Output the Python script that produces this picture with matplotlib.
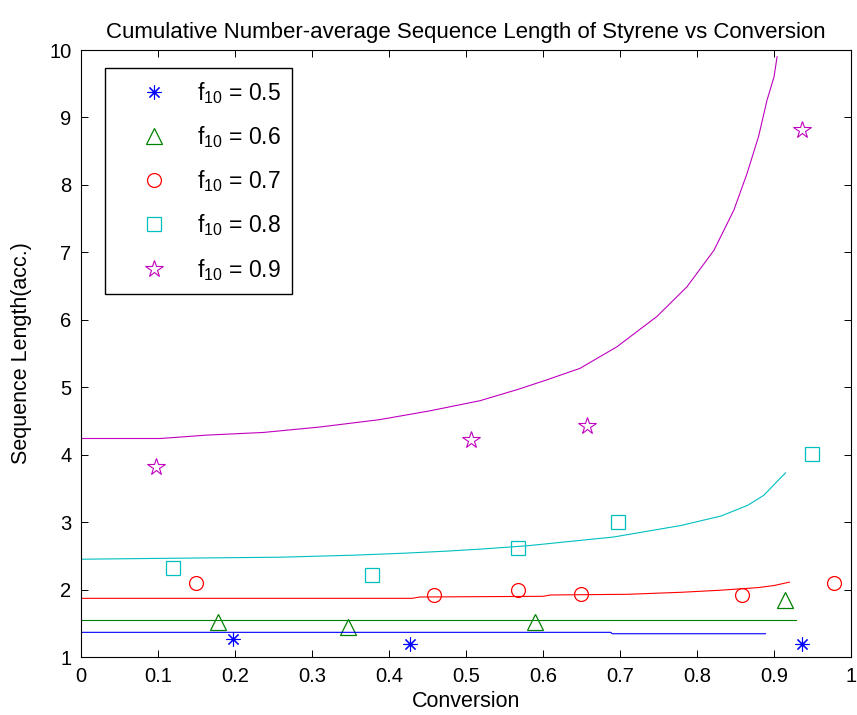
import matplotlib
matplotlib.use('Agg')
import matplotlib.pyplot as plt

plt.rcParams['font.family'] = ['Liberation Sans', 'DejaVu Sans']
plt.rcParams['mathtext.default'] = 'regular'

# model curves
blue_x = [0.0, 0.688, 0.69, 0.889]
blue_y = [1.366, 1.366, 1.345, 1.345]
green_x = [0.0, 0.928]
green_y = [1.55, 1.55]
red_x = [0.0, 0.43, 0.44, 0.60, 0.61, 0.71, 0.78, 0.83, 0.88, 0.90, 0.92]
red_y = [1.87, 1.87, 1.89, 1.90, 1.92, 1.93, 1.96, 1.99, 2.03, 2.06, 2.11]
cyan_x = [0.0, 0.081, 0.259, 0.354, 0.421, 0.475, 0.519, 0.58, 0.692, 0.779,
          0.831, 0.866, 0.887, 0.902, 0.915]
cyan_y = [2.45, 2.46, 2.48, 2.51, 2.54, 2.57, 2.60, 2.65, 2.78, 2.95,
          3.09, 3.25, 3.40, 3.58, 3.73]
mag_x = [0.0, 0.103, 0.163, 0.237, 0.310, 0.388, 0.453, 0.518, 0.568, 0.605,
         0.648, 0.696, 0.748, 0.787, 0.822, 0.848, 0.865, 0.880, 0.891, 0.900, 0.904]
mag_y = [4.24, 4.24, 4.29, 4.33, 4.41, 4.52, 4.65, 4.80, 4.97, 5.11,
         5.28, 5.60, 6.05, 6.49, 7.03, 7.63, 8.17, 8.72, 9.26, 9.60, 9.90]

# experimental points
pts_05_x = [0.197, 0.427, 0.936]
pts_05_y = [1.26, 1.20, 1.20]
pts_06_x = [0.178, 0.347, 0.589, 0.914]
pts_06_y = [1.52, 1.45, 1.52, 1.85]
pts_07_x = [0.149, 0.458, 0.568, 0.649, 0.859, 0.978]
pts_07_y = [2.10, 1.92, 2.00, 1.93, 1.92, 2.10]
pts_08_x = [0.119, 0.378, 0.568, 0.698, 0.949]
pts_08_y = [2.32, 2.21, 2.61, 3.00, 4.01]
pts_09_x = [0.097, 0.507, 0.657, 0.936]
pts_09_y = [3.82, 4.22, 4.43, 8.82]

labels = [r'f$_{10}$ = 0.5', r'f$_{10}$ = 0.6', r'f$_{10}$ = 0.7',
          r'f$_{10}$ = 0.8', r'f$_{10}$ = 0.9']

cb, cg, cr, cc, cm = '#0000ff', '#008000', '#ff0000', '#00bfbf', '#bf00bf'

fig = plt.figure(figsize=(8.57, 7.15), dpi=100)
ax = fig.add_axes([0.0945, 0.0811, 0.8985, 0.8489])

ax.plot(pts_05_x, pts_05_y, ls='none', marker=(8, 2, 0), ms=10, mec=cb, mew=0.8, label=labels[0])
ax.plot(pts_06_x, pts_06_y, ls='none', marker='^', ms=12, mfc='none', mec=cg, mew=0.9, label=labels[1])
ax.plot(pts_07_x, pts_07_y, ls='none', marker='o', ms=10, mfc='none', mec=cr, mew=0.9, label=labels[2])
ax.plot(pts_08_x, pts_08_y, ls='none', marker='s', ms=10, mfc='none', mec=cc, mew=0.9, label=labels[3])
ax.plot(pts_09_x, pts_09_y, ls='none', marker='*', ms=13, mfc='none', mec=cm, mew=0.8, label=labels[4])

ax.plot(blue_x, blue_y, color=cb, lw=0.8)
ax.plot(green_x, green_y, color=cg, lw=0.8)
ax.plot(red_x, red_y, color=cr, lw=0.8)
ax.plot(cyan_x, cyan_y, color=cc, lw=0.8)
ax.plot(mag_x, mag_y, color=cm, lw=0.8)

ax.set_xlim(0, 1)
ax.set_ylim(1, 10)
ax.set_xticks([0, 0.1, 0.2, 0.3, 0.4, 0.5, 0.6, 0.7, 0.8, 0.9, 1])
ax.set_xticklabels(['0', '0.1', '0.2', '0.3', '0.4', '0.5', '0.6', '0.7', '0.8', '0.9', '1'])
ax.set_yticks(range(1, 11))
ax.tick_params(direction='in', top=True, right=True, length=5, width=0.7,
               labelsize=14.5, pad=7)
for s in ax.spines.values():
    s.set_linewidth(0.8)

ax.set_title('Cumulative Number-average Sequence Length of Styrene vs Conversion',
             fontsize=16, pad=9)
ax.set_xlabel('Conversion', fontsize=15.5, labelpad=4)
ax.set_ylabel('Sequence Length(acc.)', fontsize=15.5, labelpad=12)

leg = ax.legend(loc='upper left', bbox_to_anchor=(0.031, 0.97), fontsize=16.5,
                frameon=True, fancybox=False, edgecolor='black', framealpha=1,
                handlelength=3.3, handletextpad=0.2, labelspacing=0.8,
                borderpad=0.5, borderaxespad=0)
leg.get_frame().set_linewidth(1.0)

fig.savefig('out.png', dpi=100)
